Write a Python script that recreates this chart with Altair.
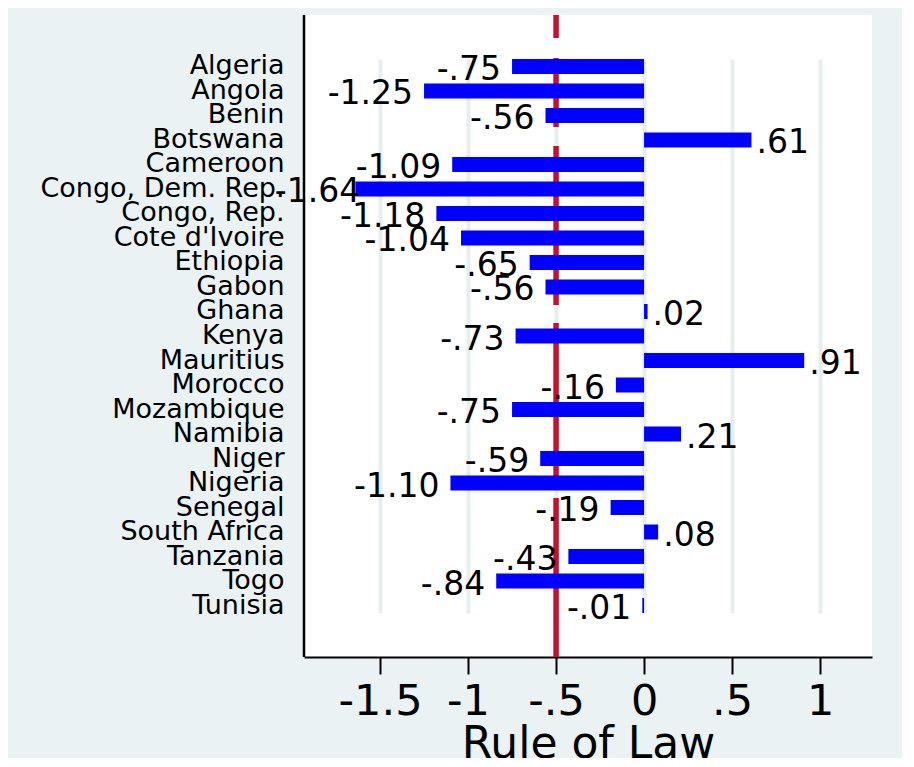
import altair as alt
import pandas as pd

countries = ["Algeria", "Angola", "Benin", "Botswana", "Cameroon", "Congo, Dem. Rep.",
             "Congo, Rep.", "Cote d'Ivoire", "Ethiopia", "Gabon", "Ghana", "Kenya",
             "Mauritius", "Morocco", "Mozambique", "Namibia", "Niger", "Nigeria",
             "Senegal", "South Africa", "Tanzania", "Togo", "Tunisia"]
rule_of_law = [-0.75, -1.25, -0.56, 0.61, -1.09, -1.64, -1.18, -1.04, -0.65, -0.56,
               0.02, -0.73, 0.91, -0.16, -0.75, 0.21, -0.59, -1.10, -0.19, 0.08,
               -0.43, -0.84, -0.01]
ref_line = [-0.5]
tick_values = [-1.5, -1, -0.5, 0, 0.5, 1]
tick_labels = ["-1.5", "-1", "-.5", "0", ".5", "1"]


def stata_fmt(v):
    s = f"{v:.2f}"
    return s.replace("-0.", "-.").replace("0.", ".") if abs(v) < 1 else s


df = pd.DataFrame({"country": countries, "value": rule_of_law,
                   "label": [stata_fmt(v) for v in rule_of_law]})
ref_df = pd.DataFrame({"ref": ref_line})

tv = "[" + ",".join(str(v) for v in tick_values) + "]"
tl = "[" + ",".join("'" + s + "'" for s in tick_labels) + "]"
label_expr = f"indexof({tv}, datum.value) >= 0 ? {tl}[indexof({tv}, datum.value)] : ''"

xscale = alt.Scale(domain=[-1.932, 1.295], nice=False, zero=False)
yscale = alt.Scale(domain=countries, range=[44, 598], paddingInner=0.388, paddingOuter=0)

xaxis = alt.Axis(values=tick_values, labelExpr=label_expr, grid=True,
                 gridColor="#e6eef0", gridWidth=4,
                 domainColor="black", domainWidth=2,
                 tickColor="black", tickWidth=2, tickSize=17,
                 labelFont="DejaVu Sans", labelFontSize=43, labelColor="black",
                 labelBaseline="alphabetic", labelPadding=40,
                 title="Rule of Law", titleFont="DejaVu Sans", titleFontSize=44,
                 titleFontWeight="normal", titleColor="black",
                 titleBaseline="alphabetic", titleY=100)
yaxis = alt.Axis(title="", ticks=False, grid=False, domain=False,
                 labelFont="DejaVu Sans", labelFontSize=27, labelColor="black",
                 labelPadding=20, labelLimit=400)

rule = alt.Chart(ref_df).mark_rule(color="#c8102e", strokeWidth=5.5,
                                   strokeDash=[23, 20, 69, 19, 159, 18, 157, 18, 200]).encode(
    x=alt.X("ref:Q", scale=xscale, axis=xaxis)
)

left_axis_line = alt.Chart(ref_df).mark_rule(color="black", strokeWidth=2.5).encode(
    x=alt.value(0)
)

base = alt.Chart(df)
bars = base.mark_bar(color="#0000ff").encode(
    x=alt.X("value:Q", scale=xscale, axis=xaxis),
    x2=alt.datum(0),
    y=alt.Y("country:N", scale=yscale, axis=yaxis, sort=countries),
)

neg_text = base.transform_filter("datum.value < 0").transform_calculate(
    pos="max(datum.value, -1.55)"
).mark_text(
    align="right", baseline="middle", dx=-11, dy=3.5,
    font="DejaVu Sans", fontSize=33, color="black"
).encode(
    x=alt.X("pos:Q", scale=xscale),
    y=alt.Y("country:N", scale=yscale, sort=countries),
    text="label:N",
)
pos_text = base.transform_filter("datum.value >= 0").mark_text(
    align="left", baseline="middle", dx=5, dy=3.5,
    font="DejaVu Sans", fontSize=33, color="black"
).encode(
    x=alt.X("value:Q", scale=xscale),
    y=alt.Y("country:N", scale=yscale, sort=countries),
    text="label:N",
)

chart = alt.layer(rule, left_axis_line, bars, neg_text, pos_text).properties(
    width=568, height=642,
    autosize=alt.AutoSizeParams(type="none"),
    padding={"left": 296, "top": 7, "right": 30, "bottom": 101},
    background="#eaf2f3",
).configure_view(fill="white", strokeWidth=0)

chart.save("out.html", embed_options={"renderer": "svg", "actions": False})
